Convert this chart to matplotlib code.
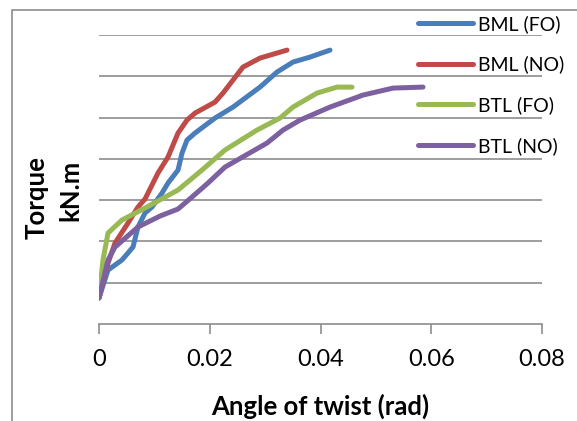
import numpy as np
import matplotlib.pyplot as plt
from matplotlib.patches import Rectangle

plt.rcParams['font.family'] = ['Lato', 'DejaVu Sans']

# angle of twist (rad) and torque (gridline units, the axis is unlabeled)
bml_fo_x = [0, 0.00163, 0.00415, 0.00614, 0.00704, 0.00831, 0.00957, 0.01138, 0.01246, 0.01427,
            0.01499, 0.01589, 0.01734, 0.02095, 0.02420, 0.02907, 0.03214, 0.03503, 0.03810, 0.04172]
bml_fo_y = [0.630, 1.307, 1.550, 1.864, 2.349, 2.688, 2.833, 3.172, 3.414, 3.729,
            4.140, 4.455, 4.625, 4.988, 5.254, 5.738, 6.102, 6.344, 6.465, 6.634]

bml_no_x = [0, 0.00163, 0.00289, 0.00524, 0.00704, 0.00831, 0.01065, 0.01246, 0.01427, 0.01589,
            0.01734, 0.02095, 0.02239, 0.02420, 0.02600, 0.02907, 0.03395]
bml_no_y = [0.630, 1.477, 1.961, 2.446, 2.833, 3.027, 3.656, 4.044, 4.625, 4.939,
            5.109, 5.375, 5.593, 5.908, 6.223, 6.441, 6.634]

btl_fo_x = [0, 0.00072, 0.00163, 0.00415, 0.00831, 0.01427, 0.01860, 0.02275, 0.02853, 0.03269,
            0.03503, 0.03937, 0.04298, 0.04569]
btl_fo_y = [0.630, 1.550, 2.203, 2.518, 2.809, 3.245, 3.729, 4.213, 4.697, 4.988,
            5.254, 5.593, 5.738, 5.738]

btl_no_x = [0, 0.00163, 0.00289, 0.00704, 0.01102, 0.01427, 0.01679, 0.01968, 0.02275, 0.03034,
            0.03323, 0.03630, 0.04172, 0.04767, 0.05309, 0.05851]
btl_no_y = [0.630, 1.550, 1.864, 2.349, 2.615, 2.785, 3.075, 3.414, 3.801, 4.383,
            4.697, 4.939, 5.254, 5.545, 5.714, 5.738]

series = [
    ("BML (FO)", bml_fo_x, bml_fo_y, "#4A7EBB"),
    ("BML (NO)", bml_no_x, bml_no_y, "#BE4B48"),
    ("BTL (FO)", btl_fo_x, btl_fo_y, "#98B954"),
    ("BTL (NO)", btl_no_x, btl_no_y, "#7D60A0"),
]
xticks = [0, 0.02, 0.04, 0.06, 0.08]
xticklabels = ["0", "0.02", "0.04", "0.06", "0.08"]

W, H = 577, 421
fig = plt.figure(figsize=(W/100, H/100), dpi=100)
ax = fig.add_axes([99/W, 1-324/H, 443/W, 289/H])

for name, x, y, c in series:
    ax.plot(x, y, color=c, lw=3.6, label=name, solid_capstyle='round', solid_joinstyle='round')

ax.set_xlim(0, 0.08)
ax.set_ylim(0, 7)
ax.set_yticks(range(1, 8))
ax.yaxis.grid(True, color='#8c8c8c', lw=1.2)
ax.set_axisbelow(True)
ax.tick_params(axis='y', left=False, labelleft=False)
ax.set_xticks(xticks)
ax.set_xticklabels(xticklabels, fontsize=17)
ax.tick_params(axis='x', direction='out', length=7, width=1.2, color='#8c8c8c', pad=11)
for s in ['top', 'right', 'left']:
    ax.spines[s].set_visible(False)
ax.spines['bottom'].set_color('#8c8c8c')
ax.spines['bottom'].set_linewidth(1.2)

fig.text(320/W, 1-415/H, "Angle of twist (rad)", fontsize=18.5, fontweight='bold',
         ha='center', va='baseline')
fig.text(37/W, 1-198/H, "Torque", rotation=90, fontsize=18.5, fontweight='bold',
         ha='center', va='center')
fig.text(70/W, 1-190/H, "kN.m", rotation=90, fontsize=18.5, fontweight='bold',
         ha='center', va='center')

leg = ax.legend(loc='upper left', bbox_to_anchor=(418/W, 1-15/H), bbox_transform=fig.transFigure,
                frameon=False, fontsize=14, handlelength=2.85, handletextpad=0.25,
                labelspacing=1.17, borderpad=0, borderaxespad=0)

fig.patches.append(Rectangle((12/W, -0.1), 2, 1-10/H+0.1, transform=fig.transFigure,
                             fill=False, edgecolor='#8c8c8c', lw=1.2))

fig.savefig("out.png", dpi=100)
